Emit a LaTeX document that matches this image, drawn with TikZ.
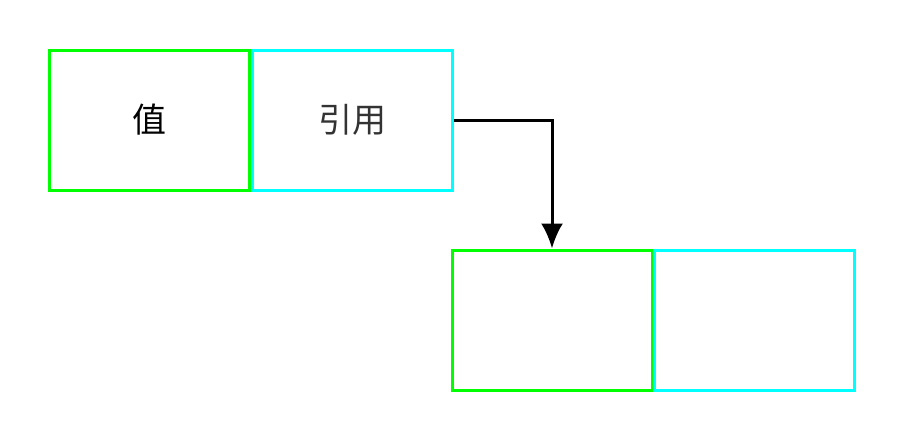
\documentclass[tikz,border=0pt]{standalone}
\usepackage{fontspec}
\newfontfamily\cjk{Noto Sans CJK SC}
\usetikzlibrary{positioning,arrows.meta}
\definecolor{vert}{RGB}{0,255,0}
\definecolor{cyan}{RGB}{0,255,255}
\definecolor{gris}{RGB}{51,51,51}
\tikzset{
  cellule/.style={draw,line width=3pt,minimum width=200pt,minimum height=140pt,inner sep=0pt,font=\cjk\fontsize{34}{40}\selectfont},
  valeur/.style={cellule,vert},
  lien/.style={cellule,cyan}
}

\begin{document}
\begin{tikzpicture}[x=1pt,y=-1pt]
\useasboundingbox (0,0) rectangle (904,440);
\node [valeur,text=black] (val) at (149.5,120) {值};
\node [lien,text=gris,right=-0.5pt of val] (ref) {引用};
\node [valeur] (val2) at (552,320) {};
\node [lien,right=-0.5pt of val2] (ref2) {};
\draw [line width=3pt,->,>={Latex[length=25pt,width=22pt]}] (ref.east) -| (val2.north);

\end{tikzpicture}
\end{document}
